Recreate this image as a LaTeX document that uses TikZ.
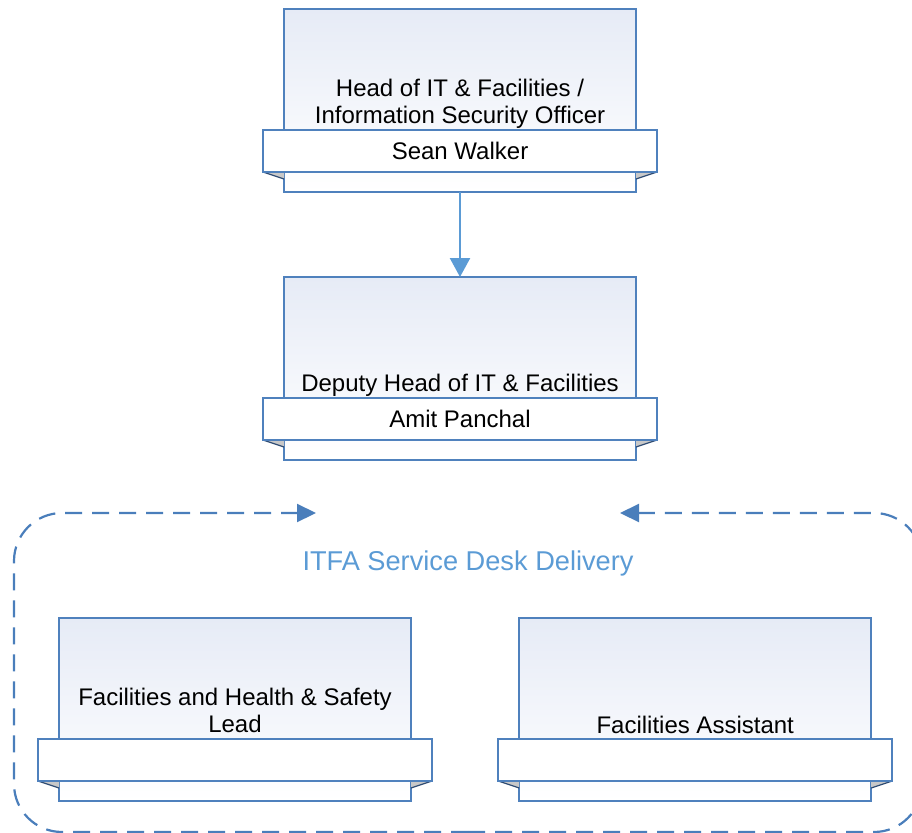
\documentclass[tikz,border=0pt]{standalone}
\usepackage{fontspec}
\setmainfont{Liberation Sans}
\usetikzlibrary{arrows.meta}
\definecolor{boxblue}{RGB}{79,129,189}
\definecolor{arrowblue}{RGB}{91,155,213}
\definecolor{dashblue}{RGB}{74,126,187}
\definecolor{labelblue}{RGB}{91,155,213}
\definecolor{shadetop}{RGB}{230,235,246}
\definecolor{foldgray}{RGB}{200,200,200}
\definecolor{folddark}{RGB}{45,75,115}
\begin{document}
\begin{tikzpicture}[x=1pt,y=-1pt,
  mainbox/.style={draw=boxblue, line width=1.6pt, top color=shadetop, bottom color=white,
     minimum width=352pt, minimum height=183pt, inner sep=0pt, outer sep=0pt},
  ribbon/.style={draw=boxblue, line width=1.6pt, fill=white, minimum width=394pt,
     minimum height=42pt, inner sep=0pt, outer sep=0pt, font=\fontsize{24}{27}\selectfont},
  titletext/.style={align=center, inner sep=0pt, font=\fontsize{24}{27}\selectfont},
  foldtri/.style={fill=foldgray},
  foldline/.style={draw=folddark, line width=1.2pt},
  connector/.style={draw=arrowblue, line width=2.4pt, -{Triangle[length=19pt,width=20pt]}},
  container/.style={draw=dashblue, line width=2.2pt, dash pattern=on 17pt off 10pt,
     rounded corners=48pt, -{Triangle[length=19pt,width=18pt]}},
  grouplabel/.style={text=labelblue, font=\fontsize{27.2}{30}\selectfont, inner sep=0pt}
]
\useasboundingbox (0,0) rectangle (912,832);
\clip (0,0) rectangle (912,832);

% ---------- top box ----------
\node[mainbox] (topbox) at (460,100.5) {};
\fill[foldtri] (263,172) -- (284,172) -- (284,179) -- cycle;
\fill[foldtri] (657,172) -- (636,172) -- (636,179) -- cycle;
\draw[foldline] (263,172) -- (284,179);
\draw[foldline] (657,172) -- (636,179);
\node[ribbon] (topname) at (460,151) {Sean Walker};
\node[titletext] (toptitle) at (460,104) {Head of IT \& Facilities /\\Information Security Officer};

% ---------- middle box ----------
\node[mainbox] (midbox) at (460,368.5) {};
\fill[foldtri] (263,440) -- (284,440) -- (284,447) -- cycle;
\fill[foldtri] (657,440) -- (636,440) -- (636,447) -- cycle;
\draw[foldline] (263,440) -- (284,447);
\draw[foldline] (657,440) -- (636,447);
\node[ribbon] (midname) at (460,419) {Amit Panchal};
\node[titletext] (midtitle) at (460,385) {Deputy Head of IT \& Facilities};

% ---------- connector ----------
\draw[connector] (topbox.south) -- (midbox.north);

% ---------- group container ----------
\coordinate (gbot) at (468,832);
\coordinate (gl) at (316,513);
\coordinate (gr) at (620,513);
\draw[container] (gbot) -- (14,832) -- (14,513) -- (gl);
\draw[container] (gbot) -- (922,832) -- (922,513) -- (gr);
\node[grouplabel] (glabel) at (468,563) {ITFA Service Desk Delivery};

% ---------- bottom left box ----------
\node[mainbox] (lbox) at (235,709.5) {};
\fill[foldtri] (38,781) -- (59,781) -- (59,788) -- cycle;
\fill[foldtri] (432,781) -- (411,781) -- (411,788) -- cycle;
\draw[foldline] (38,781) -- (59,788);
\draw[foldline] (432,781) -- (411,788);
\node[ribbon] (lname) at (235,760) {};
\node[titletext] (ltitle) at (235,710.5) {Facilities and Health \& Safety\\Lead};

% ---------- bottom right box ----------
\node[mainbox] (rbox) at (695.2,709.5) {};
\fill[foldtri] (498.2,781) -- (519.2,781) -- (519.2,788) -- cycle;
\fill[foldtri] (892.2,781) -- (871.2,781) -- (871.2,788) -- cycle;
\draw[foldline] (498.2,781) -- (519.2,788);
\draw[foldline] (892.2,781) -- (871.2,788);
\node[ribbon] (rname) at (695.2,760) {};
\node[titletext] (rtitle) at (695.2,724.5) {Facilities Assistant};
\end{tikzpicture}
\end{document}
